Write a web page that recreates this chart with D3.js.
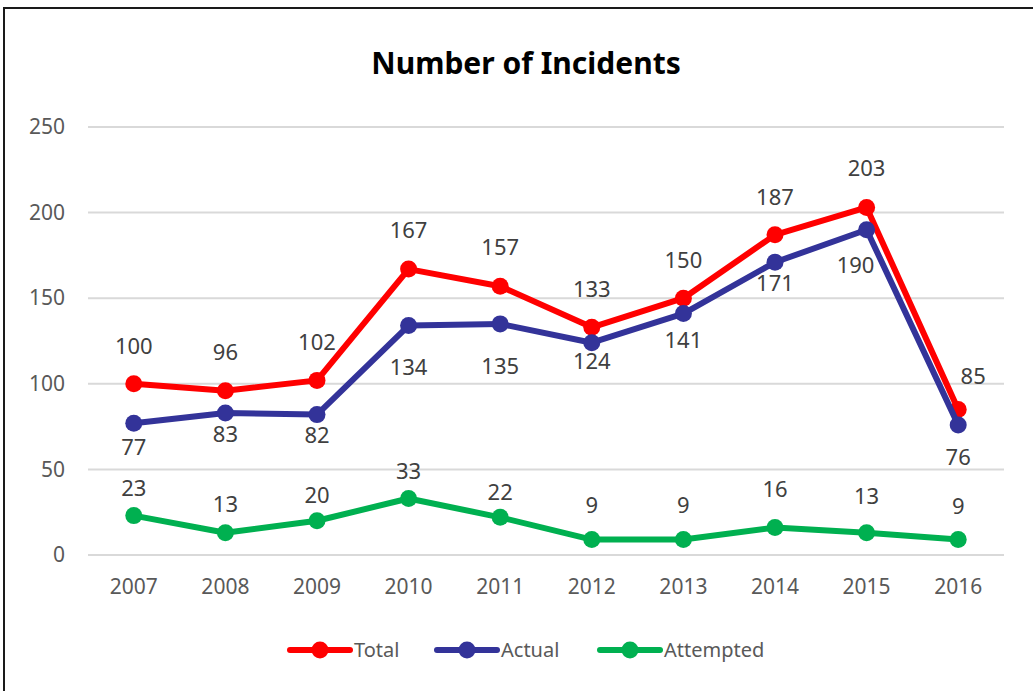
<!DOCTYPE html>
<html>
<head>
<meta charset="utf-8">
<script src="https://cdn.jsdelivr.net/npm/d3@7"></script>
<style>
  body { margin: 0; background: #fff; }
  svg { display: block; }
</style>
</head>
<body>
<div id="chart"></div>
<script>
// values
const years = ['2007', '2008', '2009', '2010', '2011', '2012', '2013', '2014', '2015', '2016'];
const totalValues = [100, 96, 102, 167, 157, 133, 150, 187, 203, 85];
const actualValues = [77, 83, 82, 134, 135, 124, 141, 171, 190, 76];
const attemptedValues = [23, 13, 20, 33, 22, 9, 9, 16, 13, 9];
const yTicks = [0, 50, 100, 150, 200, 250];

// label placement (pixels from the marker), as the labels sit in the original
const totalLabelDy = [-38, -38, -38, -39, -39, -38, -38, -38, -39, -33];
const actualLabelDy = [24, 21, 21, 42, 42, 19, 27, 21, 36, 32];
const attemptedLabelDy = [-27, -28, -25, -27, -25, -34, -34, -38, -36, -33];
const totalLabelDx = [0, 0, 0, 0, 0, 0, 0, 0, 0, 15];
const actualLabelDx = [0, 0, 0, 0, 0, 0, 0, 0, -11, 0];
const attemptedLabelDx = [0, 0, 0, 0, 0, 0, 0, 0, 0, 0];

const series = [
    {name: 'Total', values: totalValues, color: '#ff0000', labelDx: totalLabelDx, labelDy: totalLabelDy},
    {name: 'Actual', values: actualValues, color: '#333399', labelDx: actualLabelDx, labelDy: actualLabelDy},
    {name: 'Attempted', values: attemptedValues, color: '#00b050', labelDx: attemptedLabelDx, labelDy: attemptedLabelDy}
];

const width = 1033, height = 691;
const margin = {left: 88, right: 29, top: 127, bottom: 136};
const chartWidth = width - margin.left - margin.right;
const chartHeight = height - margin.top - margin.bottom;
const font = '"Noto Sans", "Open Sans", sans-serif';

const svg = d3.select('#chart').append('svg')
    .attr('width', width)
    .attr('height', height);

// outer frame
svg.append('rect')
    .attr('x', 4).attr('y', 8)
    .attr('width', width + 10).attr('height', height + 10)
    .attr('fill', 'none')
    .attr('stroke', '#1a1a1a')
    .attr('stroke-width', 2);

svg.append('text')
    .attr('x', 526).attr('y', 74)
    .attr('text-anchor', 'middle')
    .attr('font-family', font)
    .attr('font-weight', 'bold')
    .attr('font-size', 30)
    .attr('fill', '#000')
    .text('Number of Incidents');

const chart = svg.append('g')
    .attr('transform', `translate(${margin.left}, ${margin.top})`);

const xScale = d3.scaleBand()
    .domain(years)
    .range([0, chartWidth]);

const yScale = d3.scaleLinear()
    .domain([0, 250])
    .range([chartHeight, 0]);

const xPos = d => xScale(d) + xScale.bandwidth() / 2;

// grid lines
chart.selectAll('.grid')
    .data(yTicks)
    .enter()
    .append('line')
    .attr('x1', 0).attr('x2', chartWidth)
    .attr('y1', d => yScale(d)).attr('y2', d => yScale(d))
    .attr('stroke', '#d9d9d9')
    .attr('stroke-width', 2);

let yAxis = d3.axisLeft(yScale).tickValues(yTicks).tickSize(0).tickPadding(23);
let yAxisG = chart.append('g').call(yAxis);
yAxisG.select('.domain').remove();
yAxisG.selectAll('text')
    .attr('font-family', font)
    .attr('font-size', 21)
    .attr('fill', '#595959');

let xAxis = d3.axisBottom(xScale).tickSize(0).tickPadding(24);
let xAxisG = chart.append('g')
    .attr('transform', `translate(0, ${chartHeight})`)
    .call(xAxis);
xAxisG.select('.domain').remove();
xAxisG.selectAll('text')
    .attr('font-family', font)
    .attr('font-size', 21)
    .attr('fill', '#595959');

const line = d3.line()
    .x((d, i) => xPos(years[i]))
    .y(d => yScale(d));

series.forEach(s => {
    chart.append('path')
        .datum(s.values)
        .attr('fill', 'none')
        .attr('stroke', s.color)
        .attr('stroke-width', 6)
        .attr('stroke-linejoin', 'round')
        .attr('d', line);

    chart.selectAll(null)
        .data(s.values)
        .enter()
        .append('circle')
        .attr('cx', (d, i) => xPos(years[i]))
        .attr('cy', d => yScale(d))
        .attr('r', 8.5)
        .attr('fill', s.color);
});

// data labels
series.forEach(s => {
    chart.selectAll(null)
        .data(s.values)
        .enter()
        .append('text')
        .attr('x', (d, i) => xPos(years[i]) + s.labelDx[i])
        .attr('y', (d, i) => yScale(d) + s.labelDy[i])
        .attr('dy', '0.35em')
        .attr('text-anchor', 'middle')
        .attr('font-family', font)
        .attr('font-size', 22)
        .attr('fill', '#404040')
        .text(d => d);
});

// legend
const legendItems = [
    {s: series[0], x: 288},
    {s: series[1], x: 435},
    {s: series[2], x: 598}
];
const legend = svg.append('g').attr('transform', 'translate(0, 650)');
legendItems.forEach(item => {
    let g = legend.append('g').attr('transform', `translate(${item.x}, 0)`);
    g.append('line')
        .attr('x1', 2).attr('x2', 62)
        .attr('stroke', item.s.color)
        .attr('stroke-width', 6)
        .attr('stroke-linecap', 'round');
    g.append('circle')
        .attr('cx', 32).attr('r', 8.5)
        .attr('fill', item.s.color);
    g.append('text')
        .attr('x', 66).attr('dy', '0.35em')
        .attr('font-family', font)
        .attr('font-size', 20)
        .attr('fill', '#595959')
        .text(item.s.name);
});
</script>
</body>
</html>
